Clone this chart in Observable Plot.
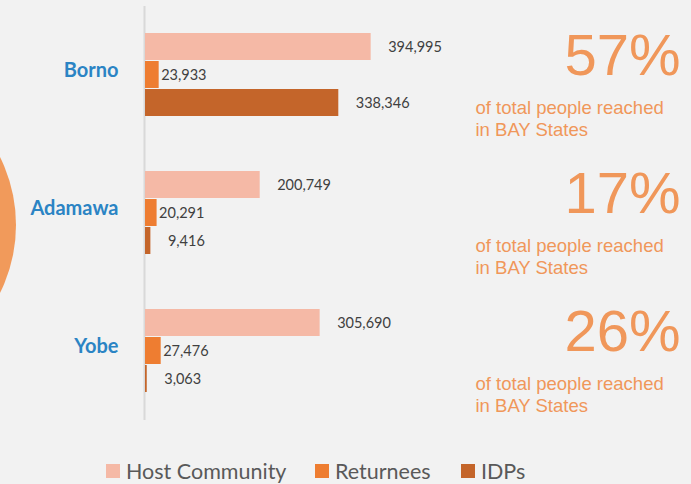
<!DOCTYPE html>
<html>
<head>
<meta charset="utf-8">
<script src="https://cdn.jsdelivr.net/npm/d3@7"></script>
<script src="https://cdn.jsdelivr.net/npm/@observablehq/plot@0.6"></script>
<style>
  html, body { margin: 0; padding: 0; background: #f2f2f2; }
  #wrap { position: relative; width: 691px; height: 484px; overflow: hidden; background: #f2f2f2; }
  #circle { position: absolute; left: -288px; top: 73px; width: 304px; height: 304px; border-radius: 50%; background: #f19a5b; }
  #chart { position: absolute; left: 0; top: 0; }
  #legend { position: absolute; left: 0; top: 440px; width: 691px; height: 44px; font-family: Lato, sans-serif; font-size: 21.5px; color: #595959; }
  .item { position: absolute; top: 19px; display: flex; align-items: center; height: 24px; }
  .sw { width: 14px; height: 14px; margin-right: 6px; }
</style>
</head>
<body>
<div id="wrap">
  <div id="circle"></div>
  <div id="chart"></div>
  <div id="legend"></div>
</div>
<script>
const states = ["Borno", "Adamawa", "Yobe"];
const series = ["Host Community", "Returnees", "IDPs"];
const colors = ["#f5b9a6", "#ee7d31", "#c4652a"];
const hostValues = [394995, 200749, 305690];
const returneeValues = [23933, 20291, 27476];
const idpValues = [338346, 9416, 3063];
const pctValues = ["57%", "17%", "26%"];
const pctNote = "of total people reached\nin BAY States";
const legendLeft = [106, 315, 461];

const rows = [];
states.forEach((s, i) => {
  rows.push({state: s, series: series[0], value: hostValues[i]});
  rows.push({state: s, series: series[1], value: returneeValues[i]});
  rows.push({state: s, series: series[2], value: idpValues[i]});
});
const pctRows = states.map((s, i) => ({state: s, pct: pctValues[i], note: pctNote}));
const fmt = d3.format(",");

const chart = Plot.plot({
  width: 691,
  height: 440,
  marginLeft: 145,
  marginRight: 8,
  marginTop: 30,
  marginBottom: 45,
  style: {background: "transparent", fontFamily: "Lato, sans-serif", overflow: "visible"},
  x: {domain: [0, 941700], axis: null},
  y: {domain: series, axis: null, padding: 0.05},
  fy: {domain: states, axis: null, paddingInner: 0.36, paddingOuter: 0},
  color: {domain: series, range: colors},
  marks: [
    Plot.ruleX([0], {stroke: "#d9d9d9", strokeWidth: 2, insetTop: -24, insetBottom: -26, dx: -1}),
    Plot.barX(rows, {fy: "state", y: "series", x: "value", fill: "series"}),
    Plot.text(rows.filter(d => d.series !== "Returnees"), {
      fy: "state", y: "series", x: "value", text: d => fmt(d.value),
      textAnchor: "start", dx: 17, fill: "#404040", fontSize: 14.5
    }),
    Plot.text(rows.filter(d => d.series === "Returnees"), {
      fy: "state", y: "series", x: "value", text: d => fmt(d.value),
      textAnchor: "start", dx: 2, fill: "#404040", fontSize: 14.5
    }),
    Plot.text(states, {
      fy: d => d, text: d => d, frameAnchor: "left", textAnchor: "end",
      dx: -27, dy: -4, fill: "#2b84c4", fontWeight: "bold", fontSize: 20
    }),
    Plot.text(pctRows, {
      fy: "state", text: "pct", frameAnchor: "top-right", textAnchor: "end",
      lineAnchor: "bottom", dx: -3, dy: 44, fill: "#f0975a", fontSize: 58,
      fontFamily: "'Liberation Sans', Arial, sans-serif"
    }),
    Plot.text(pctRows, {
      fy: "state", text: "note", frameAnchor: "top-right", textAnchor: "start",
      lineAnchor: "bottom", lineHeight: 1.19, dx: -208, dy: 105, fill: "#f0975a", fontSize: 18.5,
      fontFamily: "'Liberation Sans', Arial, sans-serif"
    })
  ]
});
document.getElementById("chart").appendChild(chart);

const legend = document.getElementById("legend");
series.forEach((s, i) => {
  const item = document.createElement("div");
  item.className = "item";
  item.style.left = legendLeft[i] + "px";
  const sw = document.createElement("div");
  sw.className = "sw";
  sw.style.background = colors[i];
  const label = document.createElement("span");
  label.textContent = s;
  item.appendChild(sw);
  item.appendChild(label);
  legend.appendChild(item);
});
</script>
</body>
</html>
